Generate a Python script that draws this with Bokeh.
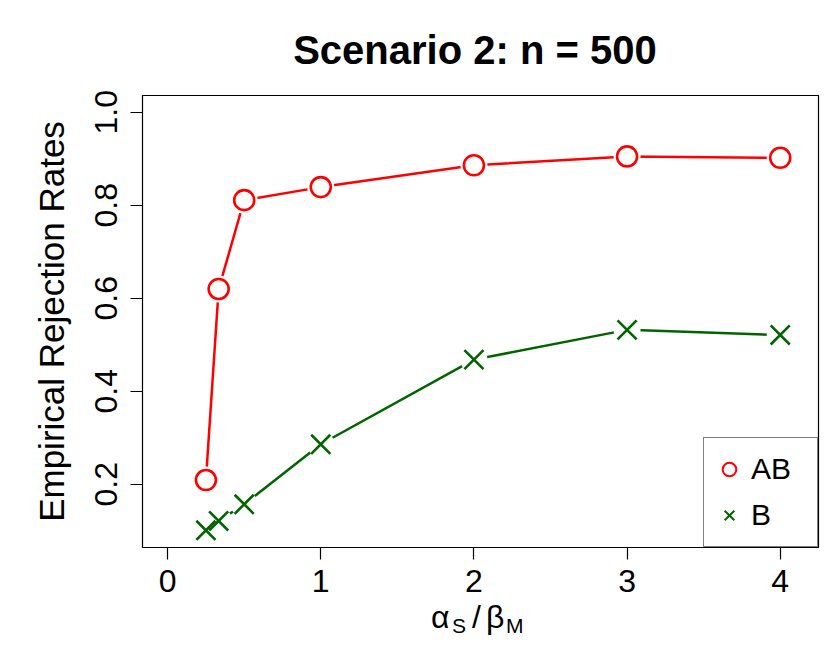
from bokeh.plotting import figure
from bokeh.models import (Range1d, FixedTicker, Legend, LegendItem, Div,
                          ColumnDataSource, NumeralTickFormatter)
from bokeh.layouts import column
from bokeh.embed import file_html
from bokeh.resources import INLINE

# ---- data ----
ratio = [0.25, 1/3, 0.5, 1, 2, 3, 4]
rate_AB = [0.209, 0.620, 0.811, 0.839, 0.886, 0.905, 0.902]
rate_B = [0.101, 0.121, 0.157, 0.286, 0.468, 0.532, 0.521]
series_names = ["AB", "B"]
x_ticks = [0, 1, 2, 3, 4]
y_ticks = [0.2, 0.4, 0.6, 0.8, 1.0]
title_text = "Scenario 2:  n = 500"
ylab = "Empirical Rejection Rates"
xlab_parts = [("α", False), ("S", True), ("/", False), ("β", False), ("M", True)]

RED = "#FF0000"
GREEN = "#006400"
FONT = "Liberation Sans"

src = ColumnDataSource(dict(x=ratio, ab=rate_AB, b=rate_B))

p = figure(width=830, height=600, output_backend="svg", toolbar_location=None,
           x_range=Range1d(-0.164, 4.25), y_range=Range1d(0.064, 1.036),
           min_border_left=142, min_border_right=12, min_border_top=95,
           min_border_bottom=53)

p.xgrid.visible = False
p.ygrid.visible = False
p.outline_line_color = "black"
p.outline_line_width = 1.2
p.background_fill_color = "white"
p.border_fill_color = "white"

# title
p.title.text = title_text
p.title.align = "center"
p.title.text_font = FONT
p.title.text_font_size = "40px"
p.title.text_font_style = "bold"
p.title.text_color = "black"
p.title.standoff = 48

# axes
for ax in (p.xaxis[0], p.yaxis[0]):
    ax.axis_line_color = None
    ax.major_tick_out = 12
    ax.major_tick_in = 0
    ax.minor_tick_line_color = None
    ax.major_tick_line_color = "black"
    ax.major_tick_line_width = 1.2
    ax.major_label_text_font = FONT
    ax.major_label_text_font_size = "32px"
    ax.major_label_text_color = "black"
    ax.axis_label_text_font = FONT
    ax.axis_label_text_font_style = "normal"
    ax.axis_label_text_color = "black"

p.xaxis.ticker = FixedTicker(ticks=x_ticks)
p.yaxis.ticker = FixedTicker(ticks=y_ticks)
p.yaxis.formatter = NumeralTickFormatter(format="0.0")
p.xaxis.major_label_standoff = 10
p.yaxis.major_label_standoff = 13
p.yaxis.major_label_orientation = "vertical"
p.yaxis.axis_label = ylab
p.yaxis.axis_label_text_font_size = "35px"
p.yaxis.axis_label_standoff = 22

# lines
p.line("x", "ab", source=src, line_color=RED, line_width=2.5)
p.line("x", "b", source=src, line_color=GREEN, line_width=2.5)
# white gaps around points (R type="b")
p.scatter("x", "ab", source=src, marker="circle", size=27, fill_color="white", line_color=None)
p.scatter("x", "b", source=src, marker="circle", size=27, fill_color="white", line_color=None)
# markers
p.scatter("x", "ab", source=src, marker="circle", size=20, fill_color="white",
          line_color=RED, line_width=2.6)
p.scatter("x", "b", source=src, marker="x", size=27, line_color=GREEN, line_width=2.6)

# legend-only renderers (no drawable data)
nan = float("nan")
empty = ColumnDataSource(dict(x=[nan], y=[nan]))
leg_ab = p.scatter("x", "y", source=empty, marker="circle", fill_color="white",
                   line_color=RED, line_width=2)
leg_b = p.scatter("x", "y", source=empty, marker="x", line_color=GREEN, line_width=2)

legend = Legend(items=[LegendItem(label=series_names[0], renderers=[leg_ab]),
                       LegendItem(label=series_names[1], renderers=[leg_b])],
                location="bottom_right", margin=0, padding=8, spacing=0,
                glyph_width=34, glyph_height=46, label_standoff=5, label_width=58,
                label_text_font=FONT, label_text_font_size="30px",
                label_text_color="black",
                border_line_color="black", border_line_width=1.2,
                background_fill_color="white", background_fill_alpha=1.0)
p.add_layout(legend, "center")

# x axis label (alpha_S / beta_M) as HTML text below the figure
lefts = [431, 452, 472, 486, 506]
spans = []
for (txt, is_sub), left in zip(xlab_parts, lefts):
    if is_sub:
        style = f"position:absolute;left:{left}px;top:15px;font-size:21px;line-height:21px;"
    else:
        style = f"position:absolute;left:{left}px;top:1px;font-size:32px;line-height:32px;"
    spans.append(f'<span style="{style}">{txt}</span>')
xlab_html = ('<div style="position:relative;width:830px;height:53px;'
             f"font-family:'{FONT}';color:black;white-space:nowrap;\">"
             + "".join(spans) + "</div>")
xlab_div = Div(text=xlab_html, width=830, height=53, margin=0)

layout = column(p, xlab_div, spacing=0)

open("out.html", "w").write(file_html(layout, INLINE))
